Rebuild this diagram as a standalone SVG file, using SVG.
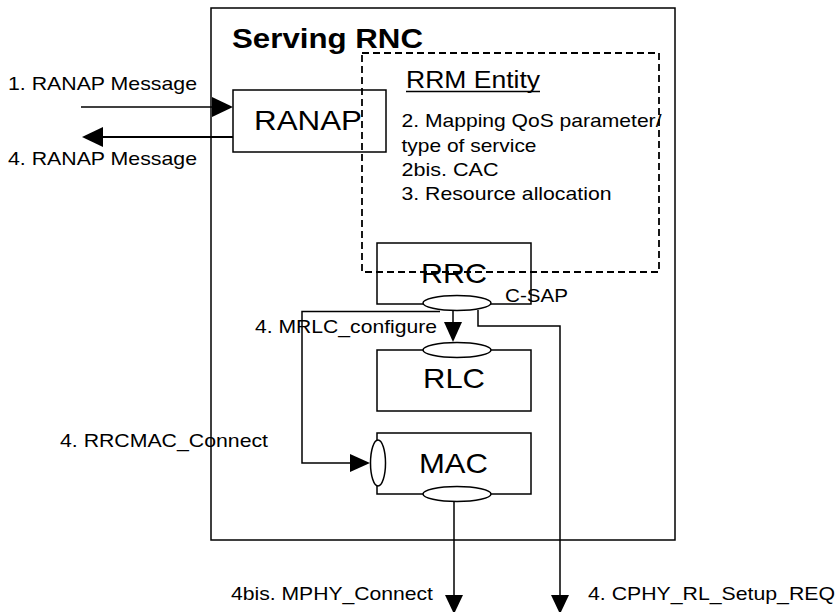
<svg xmlns="http://www.w3.org/2000/svg" width="837" height="612" viewBox="0 0 837 612">
<style>
  .box{fill:none;stroke:#000;stroke-width:1.5}
  .sap{fill:#fff;stroke:#000;stroke-width:1.5}
  .ln{fill:none;stroke:#000;stroke-width:1.5}
  .ln2{fill:none;stroke:#000;stroke-width:2}
  .hd{fill:#000;stroke:none}
  .dash{fill:none;stroke:#000;stroke-width:1.8;stroke-dasharray:7,4}
  text{font-family:"Liberation Sans",Arial,sans-serif;fill:#000}
  .big{font-size:28px}
  .lbl{font-size:19px}
</style>
<rect width="837" height="612" fill="#fff"/>
<g id="serving-rnc">
  <rect class="box" x="211" y="8" width="464" height="532"/>
  <text x="232" y="48" font-size="27" font-weight="bold" textLength="191" lengthAdjust="spacingAndGlyphs">Serving RNC</text>
</g>
<g id="ranap">
  <rect class="box" x="233" y="90" width="153" height="62"/>
  <text class="big" x="254" y="130" textLength="108" lengthAdjust="spacingAndGlyphs">RANAP</text>
</g>
<g id="rrc">
  <rect class="box" x="377" y="243" width="154" height="61"/>
  <text class="big" x="421" y="283" textLength="66" lengthAdjust="spacingAndGlyphs">RRC</text>
</g>
<g id="rlc">
  <rect class="box" x="377" y="350" width="154" height="61"/>
  <text class="big" x="423" y="388" textLength="62" lengthAdjust="spacingAndGlyphs">RLC</text>
</g>
<g id="mac">
  <rect class="box" x="377" y="433" width="154" height="61"/>
  <text class="big" x="419" y="473" textLength="69" lengthAdjust="spacingAndGlyphs">MAC</text>
</g>
<g id="rrm-entity">
  <rect class="dash" x="362" y="53" width="297" height="219"/>
  <text x="406" y="88" font-size="23" textLength="134" lengthAdjust="spacingAndGlyphs">RRM Entity</text>
  <line x1="406" y1="91.5" x2="540" y2="91.5" stroke="#000" stroke-width="1.5"/>
  <text class="lbl" x="401.5" y="127" textLength="260" lengthAdjust="spacingAndGlyphs">2. Mapping QoS parameter/</text>
  <text class="lbl" x="401.5" y="152" textLength="135" lengthAdjust="spacingAndGlyphs">type of service</text>
  <text class="lbl" x="401.5" y="176" textLength="97" lengthAdjust="spacingAndGlyphs">2bis. CAC</text>
  <text class="lbl" x="401.5" y="200" textLength="210" lengthAdjust="spacingAndGlyphs">3. Resource allocation</text>
</g>
<g id="connectors">
  <line class="ln" x1="81" y1="107" x2="213" y2="107"/>
  <polygon class="hd" points="212,97 212,117 233,107"/>
  <line class="ln2" x1="233" y1="137" x2="102" y2="137"/>
  <polygon class="hd" points="103,127 103,147 82,137"/>
  <line class="ln" x1="453" y1="310" x2="453" y2="323"/>
  <polygon class="hd" points="444,322 462,322 453,342"/>
  <polyline class="ln" points="440,311.5 302,311.5 302,463 352,463"/>
  <polygon class="hd" points="350,454 350,472 370,463"/>
  <polyline class="ln" points="478,310 478,326 560,326 560,596"/>
  <polygon class="hd" points="551,595 569,595 560,614"/>
  <line class="ln" x1="454" y1="501" x2="454" y2="596"/>
  <polygon class="hd" points="445,595 463,595 454,614"/>
</g>
<g id="saps">
  <ellipse class="sap" cx="457" cy="303" rx="34" ry="7.5"/>
  <ellipse class="sap" cx="457" cy="350" rx="34" ry="7.5"/>
  <ellipse class="sap" cx="457" cy="494" rx="34" ry="7.5"/>
  <ellipse class="sap" cx="378" cy="463" rx="7.5" ry="23"/>
</g>
<g id="labels">
  <text class="lbl" x="505" y="302" textLength="63" lengthAdjust="spacingAndGlyphs">C-SAP</text>
  <text class="lbl" x="8" y="90" textLength="189" lengthAdjust="spacingAndGlyphs">1. RANAP Message</text>
  <text class="lbl" x="8" y="165" textLength="189" lengthAdjust="spacingAndGlyphs">4. RANAP Message</text>
  <text class="lbl" x="255" y="333" textLength="182" lengthAdjust="spacingAndGlyphs">4. MRLC_configure</text>
  <text class="lbl" x="60" y="447" textLength="208" lengthAdjust="spacingAndGlyphs">4. RRCMAC_Connect</text>
  <text class="lbl" x="231" y="600" textLength="202" lengthAdjust="spacingAndGlyphs">4bis. MPHY_Connect</text>
  <text class="lbl" x="588" y="600" textLength="247" lengthAdjust="spacingAndGlyphs">4. CPHY_RL_Setup_REQ</text>
</g>
</svg>
